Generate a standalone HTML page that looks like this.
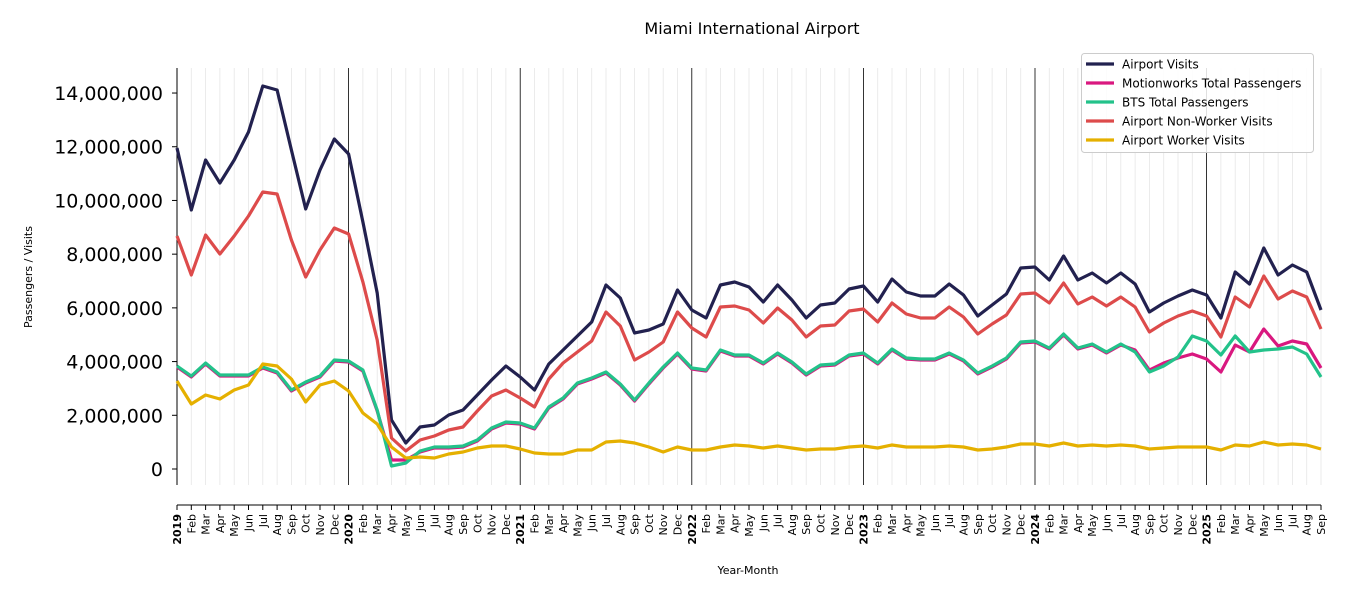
<!DOCTYPE html>
<html><head><meta charset="utf-8"><style>
html,body{margin:0;padding:0;background:#fff;}
svg text{font-family:"DejaVu Sans","Liberation Sans",sans-serif;}
</style></head><body>
<svg id="s" width="1350" height="600" xmlns="http://www.w3.org/2000/svg"></svg>
<script>
const s=document.getElementById('s');
let h='';
const X=i=>177+i*14.3;
const Y=v=>469-v/2e6*53.71;
// monthly grid
for(let i=0;i<81;i++){
  if(i%12==0&&i>0){h+=`<line x1="${X(i)}" y1="68" x2="${X(i)}" y2="485" stroke="#000" stroke-width="0.8"/>`;}
  else h+=`<line x1="${X(i)}" y1="68" x2="${X(i)}" y2="485" stroke="#e6e6e6" stroke-width="0.8"/>`;
}
// left spine
h+=`<line x1="177" y1="68" x2="177" y2="485" stroke="#000" stroke-width="1"/>`;
// y ticks
for(let v=0;v<=14e6;v+=2e6){
  const y=Y(v);
  h+=`<line x1="172" y1="${y}" x2="177" y2="${y}" stroke="#000"/>`;
  h+=`<text x="163" y="${y+7}" font-size="19" text-anchor="end">${v.toLocaleString('en-US')}</text>`;
}
// x spine
h+=`<line x1="177" y1="505" x2="1321" y2="505" stroke="#000" stroke-width="1"/>`;
const mn=['Jan','Feb','Mar','Apr','May','Jun','Jul','Aug','Sep','Oct','Nov','Dec'];
for(let i=0;i<81;i++){
  const x=X(i);
  const yr=i%12==0;
  h+=`<line x1="${x}" y1="505" x2="${x}" y2="510" stroke="#000"/>`;
  const t=yr?(2019+i/12):mn[i%12];
  h+=`<text transform="translate(${x+4},514) rotate(-90)" font-size="11" text-anchor="end" ${yr?'font-weight="bold"':''}>${t}</text>`;
}
h+=`<text x="752" y="34" font-size="16" text-anchor="middle">Miami International Airport</text>`;
h+=`<text x="748" y="574" font-size="11" text-anchor="middle">Year-Month</text>`;
h+=`<text transform="translate(32,277) rotate(-90)" font-size="11" text-anchor="middle">Passengers / Visits</text>`;
const av=[148,210,160,183,160,132,86,90,150,209,170,139, 154,222,293,420,443,427,425,415,410,395,380,366, 377,390,364,350,336,322,285,298,333,330,324,290, 310,318,285,282,287,302,285,300,318,305,303,289, 286,302,279,292,296,296,284,295,316,305,294,268, 267,280,256,280,273,283,273,284,312,303,296,290, 295,318,272,284,248,275,265,272,310];
const nw=[236,275,235,254,236,216,192,194,240,277,250,228, 234,282,340,438,451,440,436,430,427,411,396,390, 398,407,379,363,352,341,312,326,360,352,342,312, 328,337,307,306,310,323,308,320,337,326,325,311, 309,322,303,314,318,318,307,317,334,324,315,294, 293,303,283,304,297,306,297,307,332,323,316,311, 316,337,297,307,276,299,291,297,329];
const gr=[366,376,363,375,375,375,367,372,390,382,376,360, 361,370,410,466,463,451,447,447,446,440,428,422, 423,428,407,398,383,378,372,384,400,383,367,353, 368,370,350,355,355,363,353,362,374,365,364,355, 353,363,349,358,359,359,353,360,373,366,358,342, 341,348,334,348,344,352,344,352,372,366,357,336, 341,355,336,352,350,349,347,354,377];
const wk=[381,404,395,399,390,385,364,366,379,402,385,381, 391,413,424,447,458,457,458,454,452,448,446,446, 449,453,454,454,450,450,442,441,443,447,452,447, 450,450,447,445,446,448,446,448,450,449,449,447, 446,448,445,447,447,447,446,447,450,449,447,444, 444,446,443,446,445,446,445,446,449,448,447,447, 447,450,445,446,442,445,444,445,449];
const pk=gr.map((v,i)=>v+1);
pk[15]=460;pk[16]=460;
const pkTail={67:350,68:370,69:363,70:358,71:354,72:359,73:372,74:345,75:352,76:329,77:346,78:341,79:344,80:368};
for(const k in pkTail)pk[k]=pkTail[k];
const line=(d,c)=>`<polyline fill="none" stroke="${c}" stroke-width="3.2" stroke-linejoin="round" points="${d.map((y,i)=>X(i).toFixed(1)+','+y).join(' ')}"/>`;
h+=line(av,'#22214f');
h+=line(pk,'#d9187f');
h+=line(gr,'#23c28a');
h+=line(nw,'#dd4b4b');
h+=line(wk,'#e5b000');
// legend
h+=`<rect x="1081.5" y="53.5" width="232" height="99" rx="3" fill="#fff" fill-opacity="0.85" stroke="#ccc"/>`;
const L=[['Airport Visits','#22214f'],['Motionworks Total Passengers','#d9187f'],['BTS Total Passengers','#23c28a'],['Airport Non-Worker Visits','#dd4b4b'],['Airport Worker Visits','#e5b000']];
L.forEach((e,i)=>{const y=64+i*19;
h+=`<line x1="1086" y1="${y}" x2="1114" y2="${y}" stroke="${e[1]}" stroke-width="3.2"/>`;
h+=`<text x="1122" y="${y+4.5}" font-size="12">${e[0]}</text>`;});
s.innerHTML=h;
</script>
</body></html>
